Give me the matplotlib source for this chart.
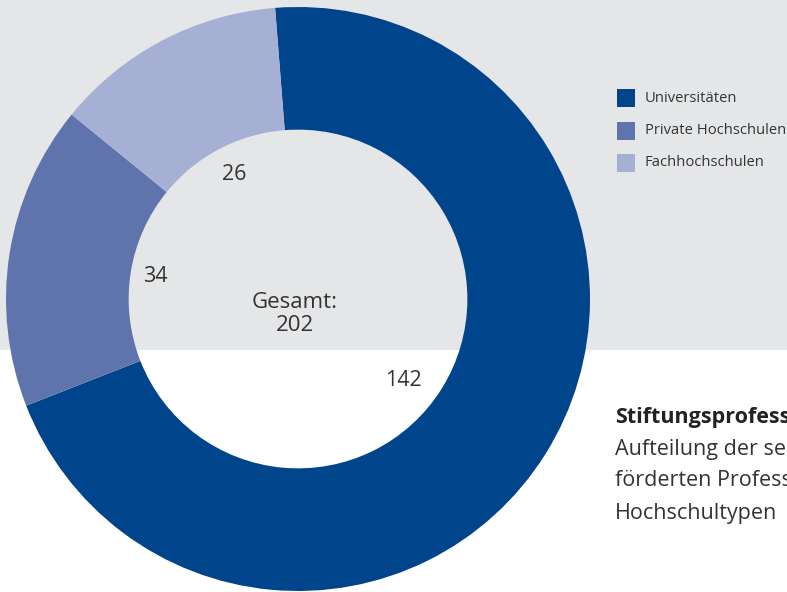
import matplotlib
matplotlib.use("Agg")
import matplotlib.pyplot as plt
from matplotlib.patches import Rectangle

plt.rcParams["font.family"] = ["Open Sans", "DejaVu Sans"]

categories = ["Universitäten", "Private Hochschulen", "Fachhochschulen"]
values = [142, 34, 26]
colors = ["#00458c", "#5f74ad", "#a5b0d4"]
total_label = "Gesamt:\n202"
caption_title = "Stiftungsprofessuren"
caption_lines = ["Aufteilung der seither ge-", "förderten Professuren nach", "Hochschultypen"]

W, H = 787, 592
fig = plt.figure(figsize=(W / 100, H / 100), dpi=100)
ax = fig.add_axes([0, 0, 1, 1])

# grey band behind the upper part
ax.add_patch(Rectangle((0, H - 350), W, 350, color="#e5e6e8", zorder=0, lw=0))

cx, cy, r = 298, H - 299, 292
wedges, _ = ax.pie(values, colors=colors, startangle=94.5, counterclock=False,
                   radius=r, center=(cx, cy),
                   wedgeprops=dict(width=r * 0.42, linewidth=0))
for w in wedges:
    w.set_zorder(2)

# value labels inside the ring
label_pos = [(403, 380), (155, 276), (234, 175)]
for (x, y), v in zip(label_pos, values):
    ax.text(x, H - y, str(v), fontsize=15.5, color="#333333",
            ha="center", va="center", zorder=3)

ax.text(295, H - 314, total_label, fontsize=16, color="#333333",
        ha="center", va="center", linespacing=1.15, zorder=3)

# legend
for i, (name, c) in enumerate(zip(categories, colors)):
    y = H - (98 + i * 32.5)
    ax.add_patch(Rectangle((617, y - 9), 18, 18, color=c, lw=0, zorder=3))
    ax.text(645, y, name, fontsize=10.6, color="#333333", ha="left",
            va="center", zorder=3)

# caption, cut off at the right edge like in the original layout
ax.text(615, H - 417, caption_title, fontsize=15.5, fontweight="bold",
        color="#222222", ha="left", va="center")
for i, line in enumerate(caption_lines):
    ax.text(615, H - (449 + i * 32), line, fontsize=15.5, color="#333333",
            ha="left", va="center")

ax.set_xlim(0, W)
ax.set_ylim(0, H)
ax.set_aspect("equal")
ax.axis("off")

fig.savefig("out.png", dpi=100)
